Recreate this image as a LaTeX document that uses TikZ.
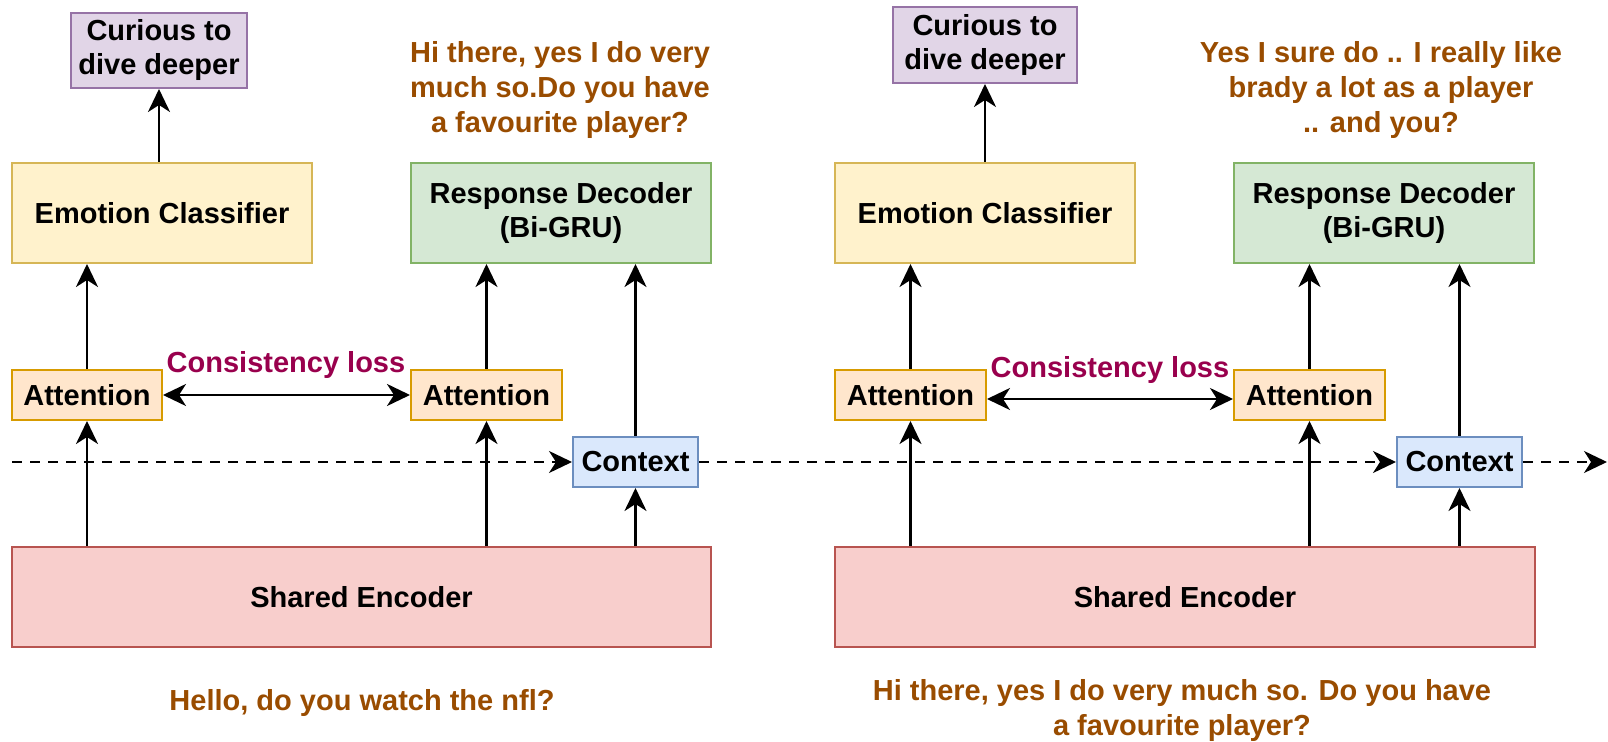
\documentclass[tikz,border=0pt]{standalone}
\usepackage{fontspec}
\setmainfont{Liberation Sans}
\usetikzlibrary{arrows.meta}

\definecolor{purpleFill}{HTML}{E1D5E7}
\definecolor{purpleLine}{HTML}{9673A6}
\definecolor{yellowFill}{HTML}{FFF2CC}
\definecolor{yellowLine}{HTML}{D6B656}
\definecolor{greenFill}{HTML}{D5E8D4}
\definecolor{greenLine}{HTML}{82B366}
\definecolor{orangeFill}{HTML}{FFE6CC}
\definecolor{orangeLine}{HTML}{D79B00}
\definecolor{blueFill}{HTML}{DAE8FC}
\definecolor{blueLine}{HTML}{6C8EBF}
\definecolor{redFill}{HTML}{F8CECC}
\definecolor{redLine}{HTML}{B85450}
\definecolor{speech}{HTML}{994C00}
\definecolor{lossText}{HTML}{99004D}

\tikzset{
  px/.style={x=0.5pt,y=-0.5pt},
  box/.style={draw, line width=1pt, inner sep=0pt, align=center,
    font=\fontsize{14.5pt}{17pt}\selectfont\bfseries},
  sz/.style 2 args={minimum width=#1*0.5pt, minimum height=#2*0.5pt},
  outbox/.style={box, fill=purpleFill, draw=purpleLine},
  clsbox/.style={box, fill=yellowFill, draw=yellowLine},
  decbox/.style={box, fill=greenFill, draw=greenLine},
  attbox/.style={box, fill=orangeFill, draw=orangeLine},
  ctxbox/.style={box, fill=blueFill, draw=blueLine},
  encbox/.style={box, fill=redFill, draw=redLine},
  utter/.style={text=speech, align=center, inner sep=0pt,
    font=\fontsize{14.5pt}{17.5pt}\selectfont\bfseries},
  losslabel/.style={text=lossText, inner sep=0pt,
    font=\fontsize{14.5pt}{17pt}\selectfont\bfseries},
  tip/.tip={Stealth[length=11.5pt,width=11pt,inset=3.5pt]},
  flow/.style={line width=1.25pt, -tip},
  both/.style={line width=1.25pt, tip-tip},
  carry/.style={line width=1pt, -tip, dash pattern=on 5pt off 4pt},
}

\begin{document}
\begin{tikzpicture}[px]
\useasboundingbox (0,0) rectangle (1608,742);

% ---------- first turn ----------
\node[outbox, sz={176}{75}] (cur1) at (159,50.5) {Curious to\\dive deeper};
\node[clsbox, sz={300}{100}] (ec1) at (162,213) {Emotion Classifier};
\node[decbox, sz={300}{100}] (rd1) at (561,213) {Response Decoder\\(Bi-GRU)};
\node[attbox, sz={150}{50}] (att1a) at (87,395) {Attention};
\node[attbox, sz={151}{50}] (att1b) at (486.5,395) {Attention};
\node[ctxbox, sz={125}{50}] (ctx1) at (635.5,462) {Context};
\node[encbox, sz={699}{100}] (se1) at (361.5,597) {Shared Encoder};

\node[utter] (resp1) at (560,90) {Hi there, yes I do very\\much so.Do you have\\a favourite player?};
\node[utter] (in1) at (362,703) {Hello, do you watch the nfl?};
\node[losslabel] (loss1) at (286,365) {Consistency loss};

\draw[flow] (ec1.north -| cur1.south) -- (cur1.south);
\draw[flow] (att1a.north) -- (att1a.north |- ec1.south);
\draw[flow] (att1a.south |- se1.north) -- (att1a.south);
\draw[flow] (att1b.north) -- (att1b.north |- rd1.south);
\draw[flow] (att1b.south |- se1.north) -- (att1b.south);
\draw[flow] (ctx1.north) -- (ctx1.north |- rd1.south);
\draw[flow] (ctx1.south |- se1.north) -- (ctx1.south);
\draw[both] (att1a.east) -- (att1b.west);

% ---------- second turn ----------
\node[outbox, sz={184}{76}] (cur2) at (985,45) {Curious to\\dive deeper};
\node[clsbox, sz={300}{100}] (ec2) at (985,213) {Emotion Classifier};
\node[decbox, sz={300}{100}] (rd2) at (1384,213) {Response Decoder\\(Bi-GRU)};
\node[attbox, sz={151}{50}] (att2a) at (910.5,395) {Attention};
\node[attbox, sz={151}{50}] (att2b) at (1309.5,395) {Attention};
\node[ctxbox, sz={125}{50}] (ctx2) at (1459.5,462) {Context};
\node[encbox, sz={700}{100}] (se2) at (1185,597) {Shared Encoder};

\node[utter] (resp2) at (1381,90) {Yes I sure do .. I really like\\brady a lot as a player\\.. and you?};
\node[utter] (in2) at (1182,711) {Hi there, yes I do very much so. Do you have\\a favourite player?};
\node[losslabel] (loss2) at (1110,370) {Consistency loss};

\draw[flow] (ec2.north) -- (cur2.south);
\draw[flow] (att2a.north) -- (att2a.north |- ec2.south);
\draw[flow] (att2a.south |- se2.north) -- (att2a.south);
\draw[flow] (att2b.north) -- (att2b.north |- rd2.south);
\draw[flow] (att2b.south |- se2.north) -- (att2b.south);
\draw[flow] (ctx2.north) -- (ctx2.north |- rd2.south);
\draw[flow] (ctx2.south |- se2.north) -- (ctx2.south);
\draw[both] ([yshift=-2pt]att2a.east) -- ([yshift=-2pt]att2b.west);

% ---------- context carried across turns ----------
\coordinate (carryIn) at (12,462);
\coordinate (carryOut) at (1607,462);
\draw[carry] (carryIn) -- (ctx1.west);
\draw[carry] (ctx1.east) -- (ctx2.west);
\draw[carry] (ctx2.east) -- (carryOut);
\end{tikzpicture}
\end{document}
